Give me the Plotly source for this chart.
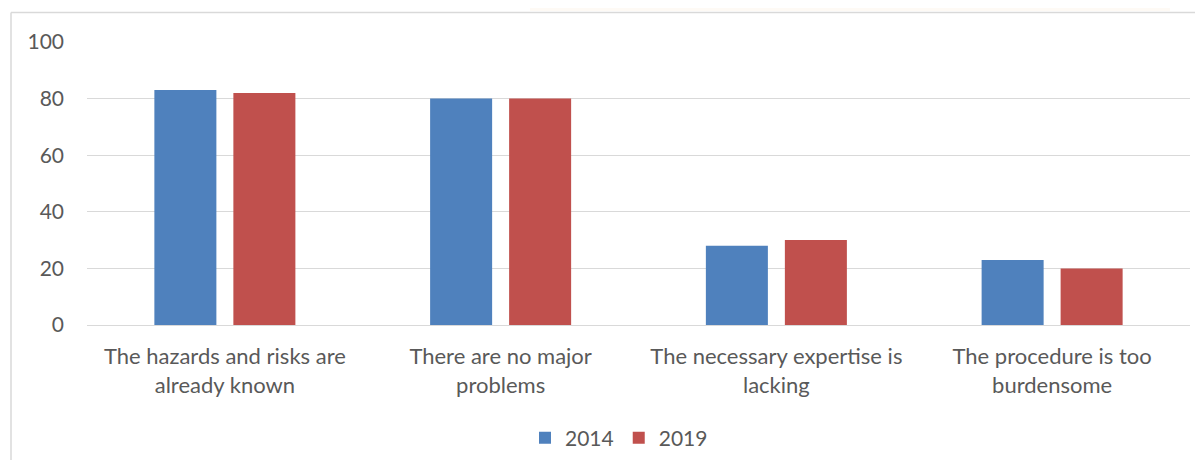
import plotly.graph_objects as go

categories = ["The hazards and risks are<br>already known",
              "There are no major<br>problems",
              "The necessary expertise is<br>lacking",
              "The procedure is too<br>burdensome"]
values_2014 = [83, 80, 28, 23]
values_2019 = [82, 80, 30, 20]
y_ticks = [0, 20, 40, 60, 80, 100]

# page body has an 8px margin on every side; keep the page inside the window
OFF = 8
W, H = 1203 - 2 * OFF, 468 - 2 * OFF
L, T = 87 - OFF, 42 - OFF
R = W - (1190 - OFF)
B = H - (325 - OFF)
pw, ph = W - L - R, H - T - B

def px_x(x):  # screen x -> paper
    return (x - OFF - L) / pw

def px_y(y):  # screen y -> paper
    return (325 - y) / ph

fig = go.Figure()
fig.add_trace(go.Bar(name="2014", x=categories, y=values_2014,
                     marker=dict(color="#4f81bd", line=dict(width=0))))
fig.add_trace(go.Bar(name="2019", x=categories, y=values_2019,
                     marker=dict(color="#c0504d", line=dict(width=0))))

font = "Lato, 'Open Sans', sans-serif"
fig.update_layout(
    width=W, height=H,
    margin=dict(l=L, r=R, t=T, b=B, autoexpand=False),
    paper_bgcolor="white", plot_bgcolor="white",
    barmode="group", bargap=0.427, bargroupgap=0.215,
    font=dict(family=font, size=21, color="#595959"),
    xaxis=dict(showgrid=False, showline=False, ticks="", tickfont=dict(size=22),
               ticklabelstandoff=16, automargin=False),
    yaxis=dict(range=[0, 100], tickvals=y_ticks, showgrid=True, gridcolor="#d9d9d9",
               gridwidth=1, zeroline=True, zerolinecolor="#d9d9d9", zerolinewidth=1,
               showline=False, ticks="", tickfont=dict(size=21), ticklabelstandoff=22,
               automargin=False),
    legend=dict(orientation="h", x=px_x(619), xanchor="center", y=px_y(438), yanchor="middle",
                font=dict(size=21), itemwidth=30, traceorder="normal"),
    showlegend=True,
    shapes=[
        dict(type="rect", xref="paper", yref="paper",
             x0=px_x(530), x1=px_x(1170), y0=px_y(11), y1=px_y(-2),
             fillcolor="#fefaf5", line=dict(width=0), layer="below"),
        dict(type="line", xref="paper", yref="paper",
             x0=px_x(11), x1=px_x(1210), y0=px_y(12.5), y1=px_y(12.5),
             line=dict(color="#d9d9d9", width=1.5)),
        dict(type="line", xref="paper", yref="paper",
             x0=px_x(11), x1=px_x(11), y0=px_y(12.5), y1=px_y(475),
             line=dict(color="#d9d9d9", width=1.5)),
    ],
)

fig.write_html("out.html")
